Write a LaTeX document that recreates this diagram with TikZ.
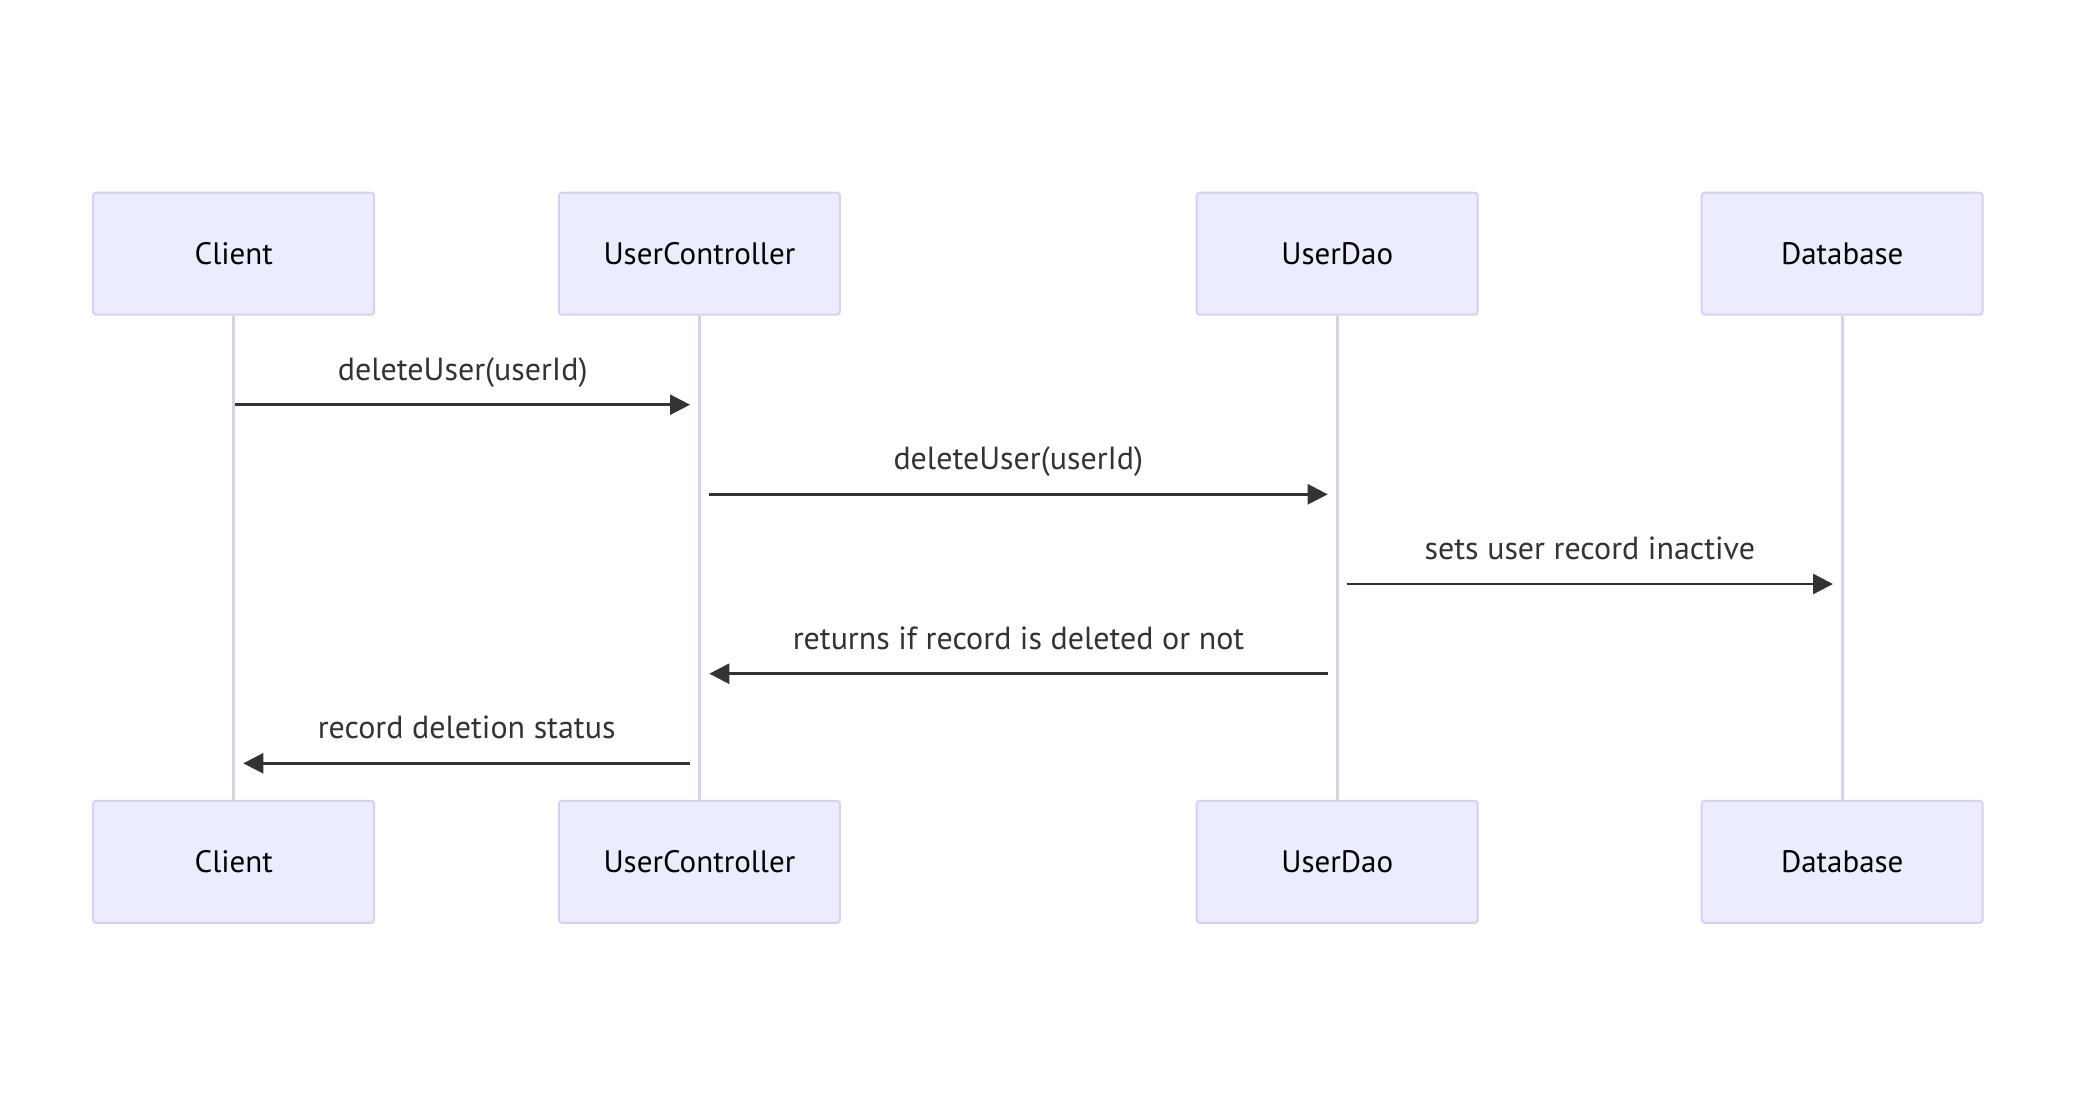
\documentclass[tikz,border=0pt]{standalone}
\usepackage{fontspec}
\setmainfont{PT Sans}
\usetikzlibrary{arrows.meta,calc}
\definecolor{actfill}{HTML}{ECECFF}
\definecolor{actline}{HTML}{D9CEF3}
\definecolor{msgcol}{HTML}{333333}
\begin{document}
\begin{tikzpicture}[x=0.5pt,y=-0.5pt
                    ]
                % define styles
\tikzset{actor/.style={rectangle,
                       rounded corners=1.5pt,
                       draw=actline,
                       fill=actfill,
                       line width=1pt,
                       minimum width=140.5pt,
                       minimum height=61pt,
                       inner sep=0,
                       text=black,
                       font=\fontsize{15.5pt}{18pt}\selectfont,
                       },
         life/.style={draw=actline,
                       line width=1.6pt,
                       },
         msg/.style={draw=msgcol,
                       line width=1.3pt,
                       -{Triangle[length=10pt,width=10pt]},
                       },
         lbl/.style={text=msgcol,
                       inner sep=0,
                       anchor=base,
                       yshift=12.35pt,
                       font=\fontsize{16pt}{19pt}\selectfont,
                       }
}

\useasboundingbox (0,0) rectangle (2076,1118);

% actors, top and bottom
\foreach \name/\x/\txt in {client/233.7/Client, ctrl/699.4/UserController,
                           dao/1337.2/UserDao, db/1842.2/Database}{
    \node[actor] (\name-t) at (\x,253.7) {\txt};
    \node[actor] (\name-b) at (\x,861.8) {\txt};
}

% lifelines
\foreach \name in {client,ctrl,dao,db}
    \draw[life] (\name-t) -- (\name-b);

% message rows
\foreach \idx/\y in {1/404.7, 2/494.3, 3/584, 4/673.7, 5/763.3}
    \coordinate (row\idx) at (0,\y);

% messages
\draw[msg] ($(client-t |- row1)+(1.6,0)$) -- ($(ctrl-t |- row1)+(-9.4,0)$)
    node[lbl,midway] {deleteUser(userId)};
\draw[msg] ($(ctrl-t |- row2)+(9.5,0)$) -- ($(dao-t |- row2)+(-9.5,0)$)
    node[lbl,midway] {deleteUser(userId)};
\draw[msg] ($(dao-t |- row3)+(9.5,0)$) -- ($(db-t |- row3)+(-9.2,0)$)
    node[lbl,midway] {sets user record inactive};
\draw[msg] ($(dao-t |- row4)+(-9.5,0)$) -- ($(ctrl-t |- row4)+(9.9,0)$)
    node[lbl,midway] {returns if record is deleted or not};
\draw[msg] ($(ctrl-t |- row5)+(-9.4,0)$) -- ($(client-t |- row5)+(9.6,0)$)
    node[lbl,midway] {record deletion status};

\end{tikzpicture}
\end{document}
